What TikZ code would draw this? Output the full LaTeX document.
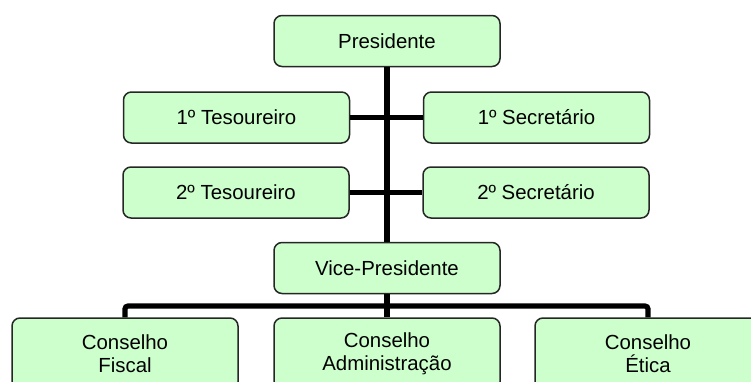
\documentclass[tikz,border=0pt]{standalone}
\usepackage{fontspec}
\setmainfont{Liberation Sans}
\usepackage{tikz}
\definecolor{boxgreen}{RGB}{204,255,204}

\begin{document}
\begin{tikzpicture}[x=0.5pt,y=-0.5pt]
\tikzset{
  cargo/.style={rectangle,rounded corners=4pt,draw=black!85,line width=0.75pt,
    fill=boxgreen,minimum width=113pt,minimum height=25.5pt,inner sep=0pt,
    align=center,font=\fontsize{10.2}{11.5}\selectfont},
  conselho/.style={cargo,minimum height=36pt},
  link/.style={line width=2.6pt}
}
\useasboundingbox (0,0) rectangle (751,381);
\clip (0,0) rectangle (751,381);
\begin{scope}[every node/.style={cargo}]
\node (pres) at (387,41) {Presidente};
\node (tes1) at (236.5,117.5) {1º Tesoureiro};
\node (sec1) at (536.5,117.5) {1º Secretário};
\node (tes2) at (236,192.5) {2º Tesoureiro};
\node (sec2) at (536,192.5) {2º Secretário};
\node (vice) at (387,268) {Vice-Presidente};
\end{scope}
\node[conselho] (fisc) at (125,354) {Conselho\\Fiscal};
\node[conselho] (adm) at (387,354) {Conselho\\Administração};
\node[conselho] (etica) at (648,354) {Conselho\\Ética};
\coordinate (bus) at (387,306);
\draw [link] (pres) -- (vice);
\draw [link] (tes1) -- (sec1);
\draw [link] (tes2) -- (sec2);
\draw [link] (vice) -- (adm);
\draw [link,rounded corners=1.5pt] (fisc.north) |- (bus) -| (etica.north);
\end{tikzpicture}
\end{document}
